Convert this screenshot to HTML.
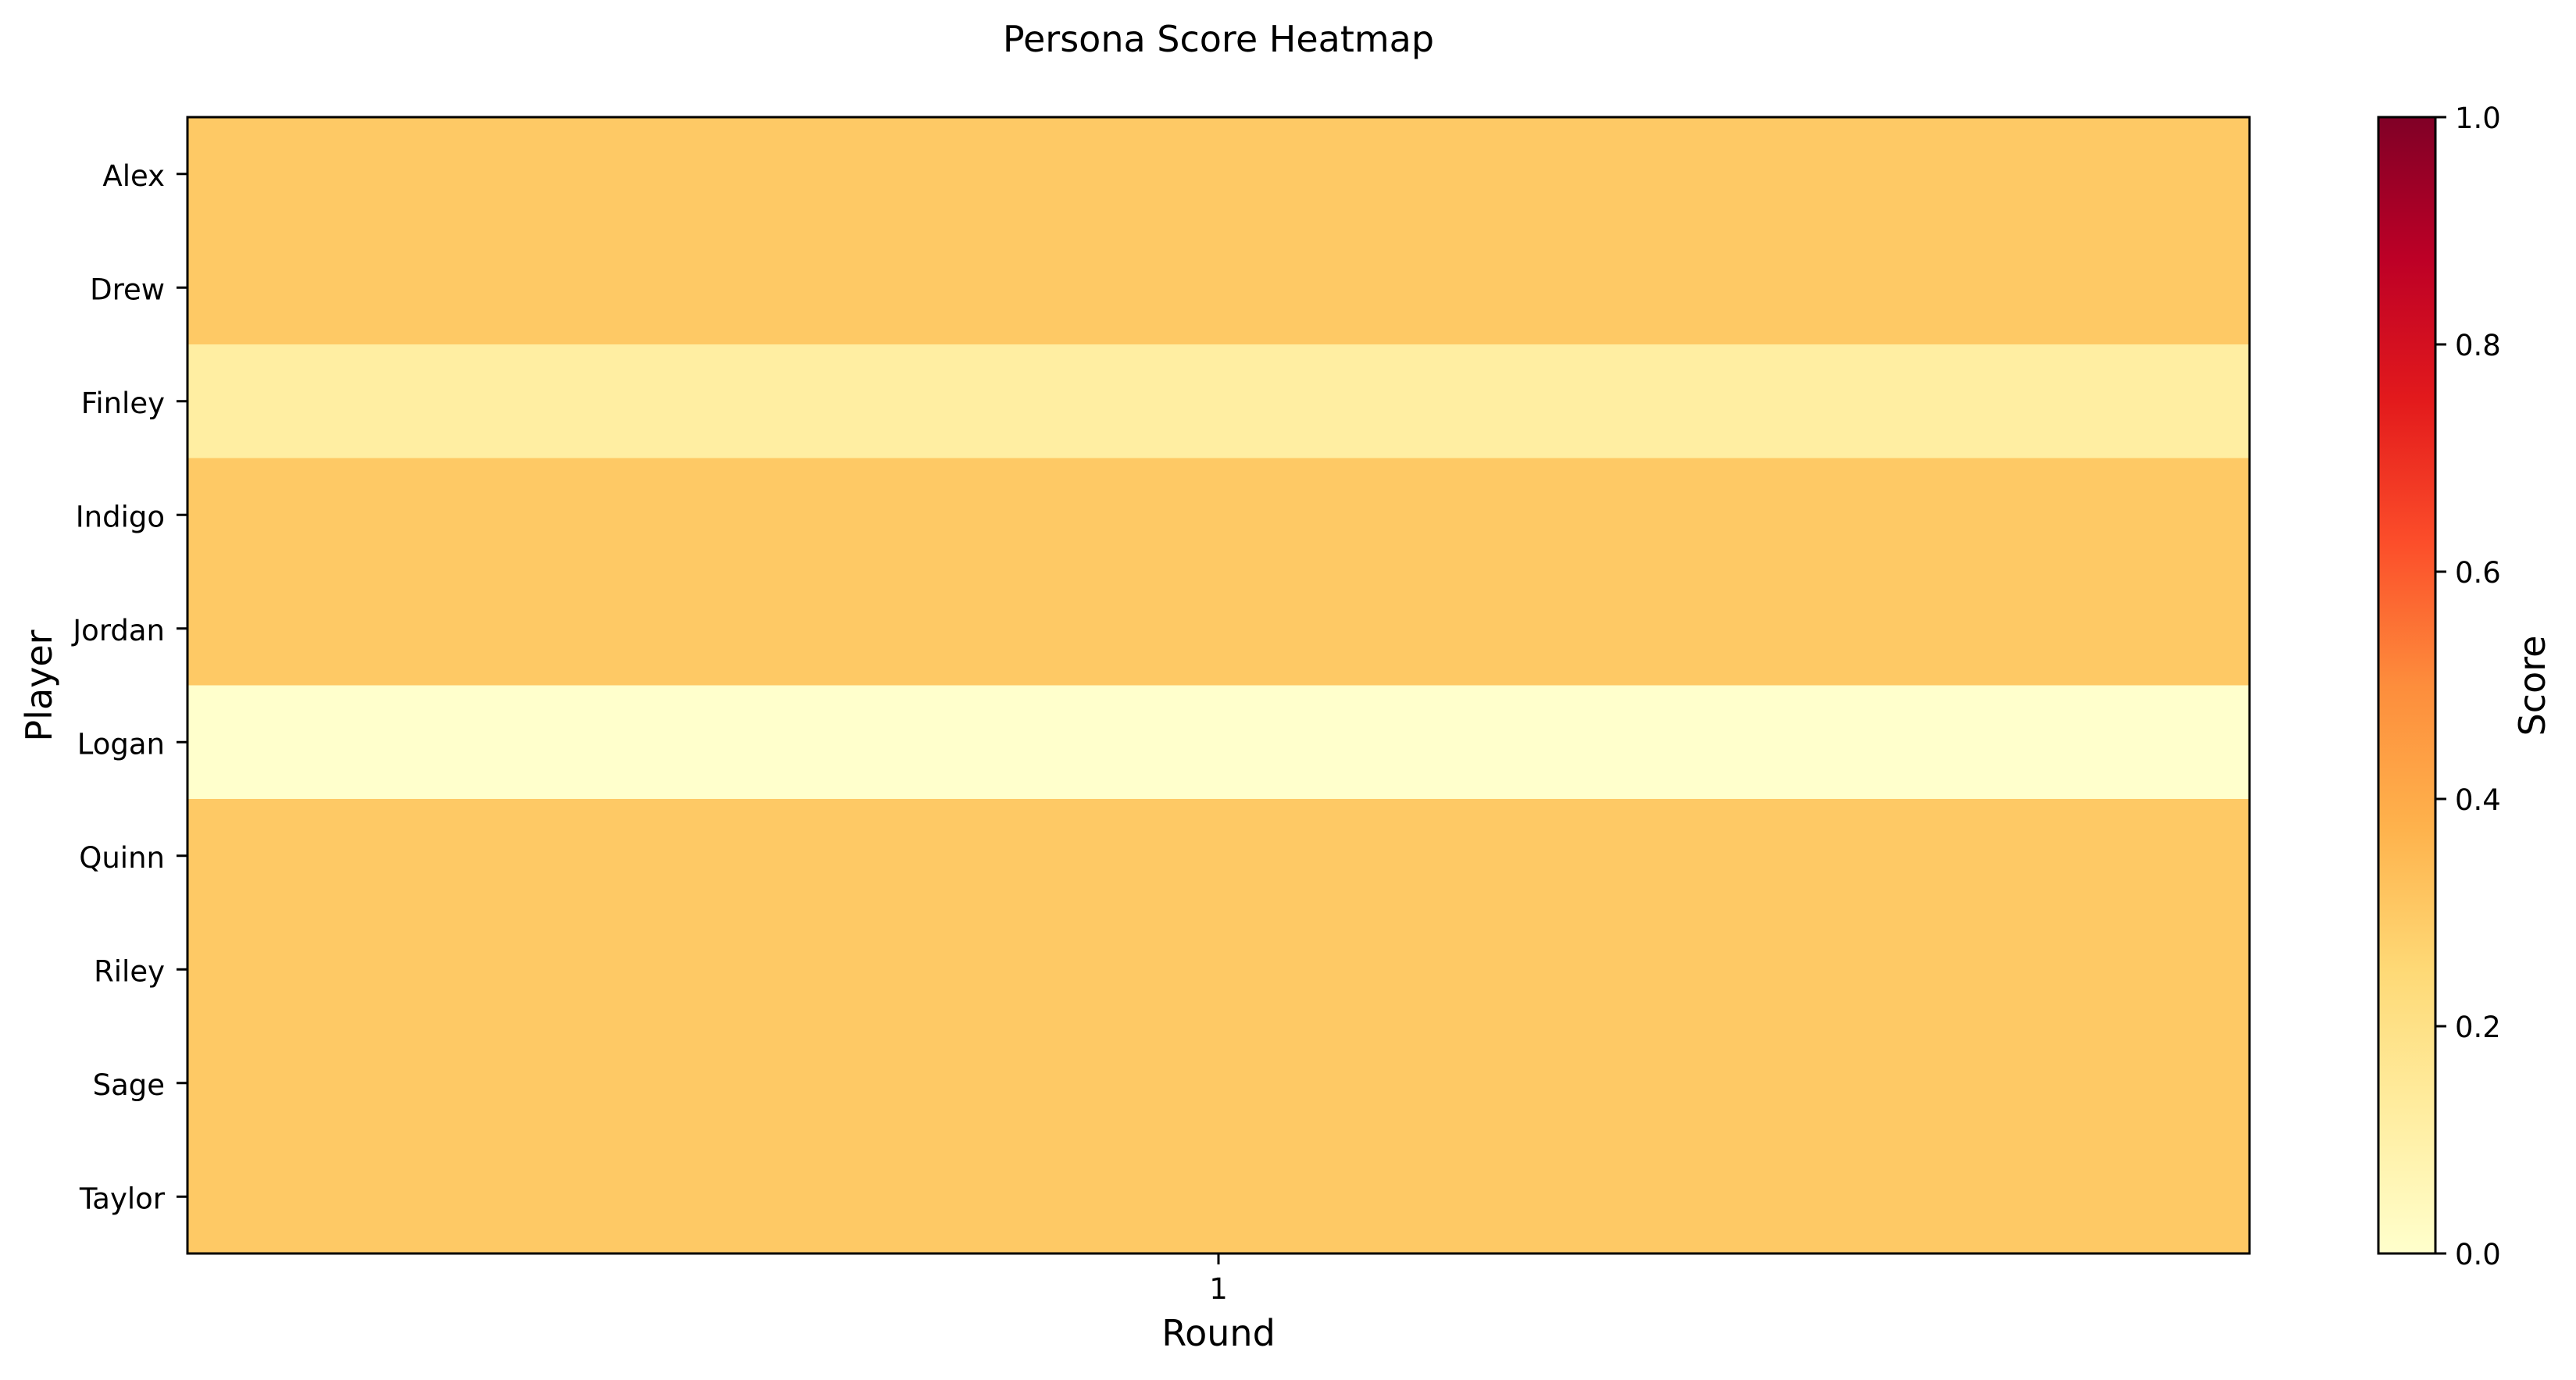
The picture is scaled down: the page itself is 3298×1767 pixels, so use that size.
<!DOCTYPE html>
<html><head><meta charset="utf-8"><style>
body{margin:0;background:#fff;}
svg text{font-family:"DejaVu Sans","Liberation Sans",sans-serif;fill:#000;}
</style></head><body>
<svg id="chart" width="3298" height="1762" viewBox="0 0 3298 1762" xmlns="http://www.w3.org/2000/svg">
<defs>
<linearGradient id="cbar" x1="0" y1="1" x2="0" y2="0">
<stop offset="0" stop-color="#ffffcc"/><stop offset="0.125" stop-color="#ffeda0"/><stop offset="0.25" stop-color="#fed976"/><stop offset="0.375" stop-color="#feb24c"/><stop offset="0.5" stop-color="#fd8d3c"/><stop offset="0.625" stop-color="#fc4e2a"/><stop offset="0.75" stop-color="#e31a1c"/><stop offset="0.875" stop-color="#bd0026"/><stop offset="1" stop-color="#800026"/>
</linearGradient>
</defs>
<text x="1560" y="66" font-size="46" text-anchor="middle">Persona Score Heatmap</text>
<g id="cells"></g>
<g id="yticks"></g>
<rect x="240" y="150" width="2640" height="1455" fill="none" stroke="#000" stroke-width="3"/>
<line x1="1560" y1="1605" x2="1560" y2="1619" stroke="#000" stroke-width="3"/>
<text x="1560" y="1663" font-size="37" text-anchor="middle">1</text>
<text x="1560" y="1723" font-size="46" text-anchor="middle">Round</text>
<text transform="translate(66,878) rotate(-90)" font-size="46" text-anchor="middle">Player</text>
<rect x="3045" y="150" width="73" height="1455" fill="url(#cbar)" stroke="#000" stroke-width="3"/>
<g id="cticks"></g>
<text transform="translate(3258,878) rotate(-90)" font-size="46" text-anchor="middle">Score</text>
</svg>
<script>
const players = ["Alex","Drew","Finley","Indigo","Jordan","Logan","Quinn","Riley","Sage","Taylor"];
const rounds = ["1"];
const scores = [0.3,0.3,0.12,0.3,0.3,0.0,0.3,0.3,0.3,0.3];
const cbarTicks = [0,0.2,0.4,0.6,0.8,1.0];
const cbarLabels = ["0.0","0.2","0.4","0.6","0.8","1.0"];

const NS="http://www.w3.org/2000/svg";
const plotL=240,plotR=2880,plotT=150,plotB=1605;
const cbT=150,cbB=1605,cbR=3118;
const stops=[[255,255,204],[255,237,160],[254,217,118],[254,178,76],[253,141,60],[252,78,42],[227,26,28],[189,0,38],[128,0,38]];
function cmap(v){v=Math.max(0,Math.min(1,v));const p=v*8,i=Math.min(7,Math.floor(p)),f=p-i;const a=stops[i],b=stops[i+1];
return "rgb("+a.map((c,k)=>Math.round(c+(b[k]-c)*f)).join(",")+")";}
const rowH=(plotB-plotT)/players.length, colW=(plotR-plotL)/rounds.length;
function yPos(i){return plotT+i*rowH;}
function xPos(j){return plotL+j*colW;}
function cbY(v){return cbB-v*(cbB-cbT);}
const cells=document.getElementById('cells'),yt=document.getElementById('yticks'),ct=document.getElementById('cticks');
players.forEach((p,i)=>{
  const r=document.createElementNS(NS,'rect');
  r.setAttribute('x',xPos(0));r.setAttribute('y',yPos(i));r.setAttribute('width',colW);r.setAttribute('height',rowH+0.5);
  r.setAttribute('fill',cmap(scores[i]));
  
  
  cells.appendChild(r);
  const cy=yPos(i)+rowH/2;
  const l=document.createElementNS(NS,'line');
  l.setAttribute('x1',plotL-14);l.setAttribute('x2',plotL);l.setAttribute('y1',cy);l.setAttribute('y2',cy);l.setAttribute('stroke','#000');l.setAttribute('stroke-width','3');
  
  
  yt.appendChild(l);
  const t=document.createElementNS(NS,'text');
  t.setAttribute('x',plotL-29);t.setAttribute('y',cy+15);t.setAttribute('font-size','37');t.setAttribute('text-anchor','end');
  t.textContent=p;
  
  
  yt.appendChild(t);
});
cbarTicks.forEach((v,i)=>{
  const y=cbY(v);
  const l=document.createElementNS(NS,'line');
  l.setAttribute('x1',cbR);l.setAttribute('x2',cbR+14);l.setAttribute('y1',y);l.setAttribute('y2',y);l.setAttribute('stroke','#000');l.setAttribute('stroke-width','3');
  
  
  ct.appendChild(l);
  const t=document.createElementNS(NS,'text');
  t.setAttribute('x',cbR+25);t.setAttribute('y',y+14);t.setAttribute('font-size','37');
  t.textContent=cbarLabels[i];
  
  
  ct.appendChild(t);
});
</script>
</body></html>
